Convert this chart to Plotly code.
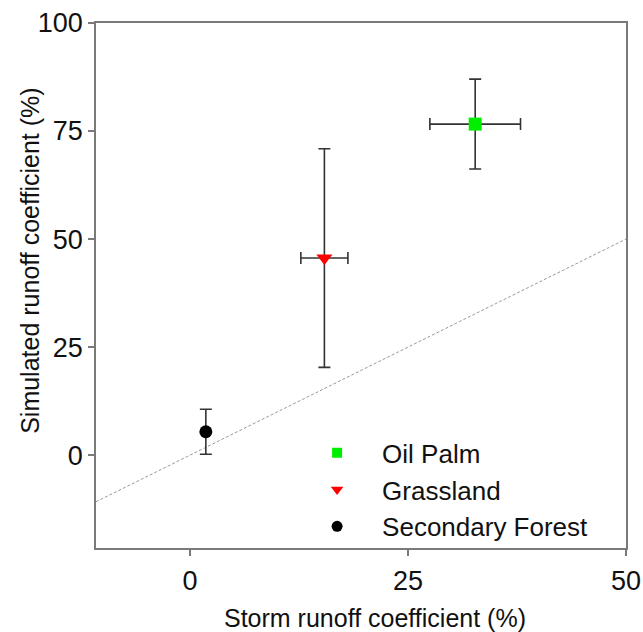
import plotly.graph_objects as go

# Data
names = ["Oil Palm", "Grassland", "Secondary Forest"]
storm_rc = [32.7, 15.4, 1.8]
storm_err = [5.2, 2.7, 0.0]
sim_rc = [76.6, 45.6, 5.4]
sim_err = [10.4, 25.3, 5.2]
symbols = ["square", "triangle-down", "circle"]
colors = ["#00ee00", "#ff0000", "#000000"]
sizes = [13, 14, 13]
legend_sizes = [10, 11, 11]

x_range = [-10.8, 50]
y_range = [-21.5, 100]
one_to_one = [-10.8, 50]
x_ticks = [0, 25, 50]
y_ticks = [0, 25, 50, 75, 100]

FONT = "Liberation Sans, Arial"
TXT = "#111111"

fig = go.Figure()

fig.add_trace(go.Scatter(
    x=one_to_one, y=one_to_one, mode="lines",
    line=dict(color="#9a9a9a", width=1, dash="3px,2px"),
    showlegend=False, hoverinfo="skip"))

for i, n in enumerate(names):
    fig.add_trace(go.Scatter(
        x=[storm_rc[i]], y=[sim_rc[i]], mode="markers", name=n,
        showlegend=False,
        marker=dict(symbol=symbols[i], color=colors[i], size=sizes[i], line=dict(width=0)),
        error_x=dict(type="data", array=[storm_err[i]], visible=storm_err[i] > 0,
                     color="#333333", thickness=1.6, width=6),
        error_y=dict(type="data", array=[sim_err[i]], visible=True,
                     color="#333333", thickness=1.6, width=6),
    ))

# legend entries (smaller symbols, as in the reference)
for i, n in enumerate(names):
    fig.add_trace(go.Scatter(
        x=[None], y=[None], mode="markers", name=n,
        marker=dict(symbol=symbols[i], color=colors[i], size=legend_sizes[i], line=dict(width=0)),
    ))

axis_common = dict(
    showline=True, linecolor="#7a7a7a", linewidth=1.6, mirror=True,
    ticks="outside", ticklen=6, tickcolor="#7a7a7a", tickwidth=1.6,
    showgrid=False, zeroline=False,
    tickfont=dict(family=FONT, size=27, color=TXT),
)

fig.update_xaxes(range=x_range, tickvals=x_ticks, ticklabelstandoff=2, **axis_common)
fig.update_yaxes(range=y_range, tickvals=y_ticks, **axis_common)

fig.add_annotation(text="Storm runoff coefficient (%)", xref="paper", yref="paper",
                   x=0.5255, y=-0.133, xanchor="center", yanchor="middle",
                   showarrow=False, font=dict(family=FONT, size=25, color=TXT))
fig.add_annotation(text="Simulated runoff coefficient (%)", xref="paper", yref="paper",
                   x=-0.1245, y=0.547, xanchor="center", yanchor="middle", textangle=-90,
                   showarrow=False, font=dict(family=FONT, size=25, color=TXT))

fig.update_layout(
    width=643, height=632,
    margin=dict(l=96, r=17, t=23, b=84, autoexpand=False),
    plot_bgcolor="white", paper_bgcolor="white",
    legend=dict(x=0.37, y=0.226, xanchor="left", yanchor="top",
                bgcolor="rgba(0,0,0,0)", itemwidth=80,
                font=dict(family=FONT, size=26, color=TXT)),
)

fig.write_html("out.html")
